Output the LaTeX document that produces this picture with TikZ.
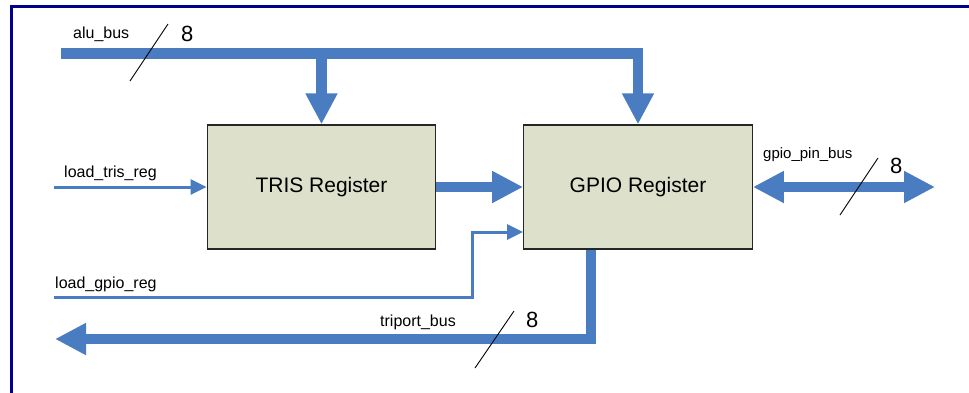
\documentclass[tikz,border=0pt]{standalone}
\usepackage{fontspec}
\setmainfont{Liberation Sans}
\usetikzlibrary{arrows.meta,calc}
\definecolor{busblue}{RGB}{74,124,194}
\definecolor{boxfill}{RGB}{221,225,203}
\definecolor{framenavy}{RGB}{0,0,140}
\begin{document}
\begin{tikzpicture}[x=1pt,y=-1pt,
  bus/.style={draw=busblue,line width=10.5pt,line join=miter},
  bushead/.style={-{Triangle[width=30pt,length=31pt]}},
  ctl/.style={draw=busblue,line width=3pt,-{Triangle[width=15pt,length=16pt]}},
  regbox/.style={draw=black!85,line width=1.3pt,fill=boxfill,minimum width=228.5pt,minimum height=124pt,inner sep=0pt,font=\fontsize{21}{25}\selectfont},
  lbl/.style={anchor=base west,inner sep=0pt,font=\fontsize{16}{19}\selectfont},
  num/.style={anchor=base west,inner sep=0pt,font=\fontsize{22}{26}\selectfont},
  tick/.style={draw=black,line width=0.9pt}]
\useasboundingbox (0,0) rectangle (969,392);
\clip (0,0) rectangle (969,392);
% frame (cropped)
\draw[framenavy,line width=2.7pt] (11.3,400) |- (980,6.2);

% registers
\node[regbox] (tris) at (321.5,187) {TRIS Register};
\node[regbox] (gpio) at (638,187) {GPIO Register};

% coordinates for free ends
\coordinate (alu) at (61,53.5);
\coordinate (lt) at (54,187);
\coordinate (lg) at (54,297);
\coordinate (lgk) at (472,297);
\coordinate (tp) at (55,339);
\coordinate (pin) at (935,187);

% buses
\draw[bus,bushead] (alu) -| (gpio.north);
\draw[bus,bushead] (tris.north |- alu) -- (tris.north);
\draw[bus,bushead] (tris.east) -- (gpio.west);
\draw[bus,{Triangle[width=30pt,length=31pt]}-{Triangle[width=30pt,length=31pt]}] (gpio.east) -- (pin);
\draw[bus,bushead] ([xshift=-47pt]gpio.south) |- (tp);

% control lines
\draw[ctl] (lt) -- (tris.west);
\draw[ctl] (lg) -- (lgk) |- ([yshift=-45pt]gpio.west);

% bus width ticks
\draw[tick] (130,81) -- (168,24);
\draw[tick] (840,215) -- (878,158);
\draw[tick] (475,368) -- (514,311);

% labels
\node[lbl] (lalu) at (73,38) {alu\_bus};
\node[num] (nalu) at (181,41) {8};
\node[lbl] (llt) at (64,177.5) {load\_tris\_reg};
\node[lbl] (llg) at (55,288) {load\_gpio\_reg};
\node[lbl] (ltp) at (380,326) {triport\_bus};
\node[num] (ntp) at (526,327) {8};
\node[lbl,font=\fontsize{15}{18}\selectfont] (lpin) at (763,158) {gpio\_pin\_bus};
\node[num] (npin) at (890,173) {8};
\end{tikzpicture}
\end{document}
